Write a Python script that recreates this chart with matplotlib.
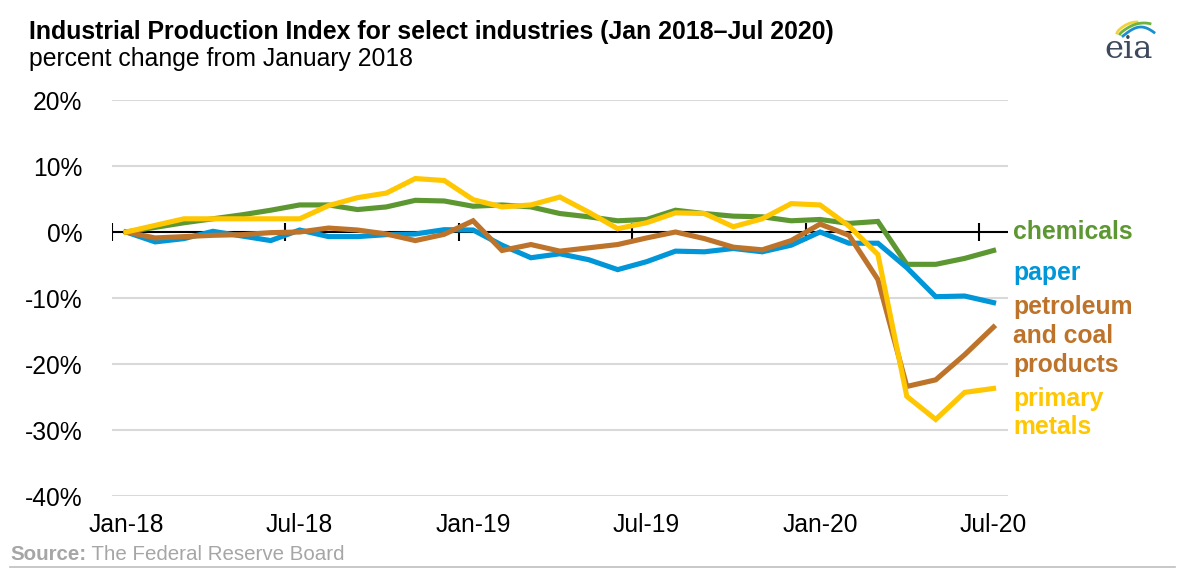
import numpy as np
import matplotlib
matplotlib.use('Agg')
import matplotlib.pyplot as plt
from matplotlib.lines import Line2D

plt.rcParams['font.family'] = ['Liberation Sans', 'DejaVu Sans']

# monthly values, Jan 2018 - Jul 2020 (percent change from Jan 2018)
months = ['Jan-18', 'Feb-18', 'Mar-18', 'Apr-18', 'May-18', 'Jun-18',
          'Jul-18', 'Aug-18', 'Sep-18', 'Oct-18', 'Nov-18', 'Dec-18',
          'Jan-19', 'Feb-19', 'Mar-19', 'Apr-19', 'May-19', 'Jun-19',
          'Jul-19', 'Aug-19', 'Sep-19', 'Oct-19', 'Nov-19', 'Dec-19',
          'Jan-20', 'Feb-20', 'Mar-20', 'Apr-20', 'May-20', 'Jun-20',
          'Jul-20']
chemicals = [0, 0.7, 1.4, 2.0, 2.6, 3.3, 4.1, 4.1, 3.4, 3.8, 4.8, 4.7,
             3.9, 4.1, 3.8, 2.8, 2.3, 1.7, 1.9, 3.3, 2.8, 2.4, 2.3, 1.7,
             1.9, 1.3, 1.6, -4.9, -4.9, -4.0, -2.8]
paper = [0, -1.5, -1.0, 0.1, -0.6, -1.3, 0.3, -0.7, -0.7, -0.4, -0.3, 0.35,
         0.3, -2.0, -3.9, -3.3, -4.2, -5.7, -4.5, -2.9, -3.0, -2.5, -3.0, -2.0,
         0.0, -1.7, -1.7, -5.4, -9.8, -9.7, -10.7]
petroleum = [0, -0.9, -0.7, -0.5, -0.4, -0.1, 0.0, 0.6, 0.3, -0.3, -1.3, -0.35,
             1.7, -2.8, -1.9, -2.9, -2.4, -1.9, -0.9, 0.0, -1.0, -2.3, -2.7, -1.3,
             1.2, -0.5, -7.2, -23.4, -22.4, -18.6, -14.4]
metals = [0, 1.0, 2.0, 2.0, 2.0, 2.0, 2.0, 4.0, 5.2, 5.9, 8.1, 7.8,
          4.9, 3.8, 4.1, 5.3, 3.0, 0.5, 1.4, 2.9, 2.8, 0.8, 2.0, 4.3,
          4.1, 0.9, -3.4, -24.9, -28.4, -24.3, -23.7]

series_names = ['chemicals', 'paper', 'petroleum\nand coal\nproducts', 'primary\nmetals']
colors = ['#5D9732', '#0096D7', '#BD732A', '#FFC702']
label_y = [232, 273, 336, 413]   # pixel rows of the end labels

yticks = [20, 10, 0, -10, -20, -30, -40]

fig = plt.figure(figsize=(11.85, 5.69), dpi=100)
W, H = 1185, 569
ax = fig.add_axes([111.7 / W, 1 - 496 / H, (1008 - 111.7) / W, (496 - 100) / H])

x = np.arange(len(months))
for vals, c in zip([chemicals, paper, petroleum, metals], colors):
    ax.plot(x, vals, color=c, lw=3.7, solid_joinstyle='miter', zorder=3)

ax.set_xlim(-0.5, len(months) - 0.5)
ax.set_ylim(-40, 20)
ax.set_yticks(yticks)
ax.set_yticklabels(['%d%%' % v for v in yticks])
ax.set_xticks(x[::6])
ax.set_xticklabels(months[::6])
ax.tick_params(length=0, labelsize=17.7, colors='black')
ax.tick_params(axis='y', pad=21)
ax.tick_params(axis='x', pad=12)
for s in ax.spines.values():
    s.set_visible(False)
for v in yticks:
    if v != 0:
        ax.axhline(v, color='#D9D9D9', lw=1.5, zorder=1)

# zero axis line with category-boundary tick marks
ax.axhline(0, color='black', lw=1.5, zorder=2)
bounds = np.arange(-0.5, len(months), 6)
ax.vlines(bounds, -1.3, 1.3, color='black', lw=1.5, zorder=2)

# end labels
for name, c, py in zip(series_names, colors, label_y):
    fig.text(1013 / W, 1 - py / H, name, color=c, fontsize=17.8,
             fontweight='bold', va='center', ha='left', linespacing=1.26)

# titles
fig.text(29 / W, 1 - 32 / H, 'Industrial Production Index for select industries (Jan 2018\u2013Jul 2020)',
         fontsize=17.9, fontweight='bold', va='center', ha='left')
fig.text(29 / W, 1 - 59 / H, 'percent change from January 2018',
         fontsize=17.8, va='center', ha='left')

# source
t1 = fig.text(10 / W, 1 - 554 / H, 'Source:', fontsize=14.8, fontweight='bold',
              color='#A6A6A6', va='center', ha='left')
ax.annotate(' The Federal Reserve Board', xy=(1, 0.5), xycoords=t1,
            fontsize=14.8, color='#A6A6A6', va='center', ha='left',
            annotation_clip=False)
fig.add_artist(Line2D([10 / W, 1175 / W], [1 - 567 / H, 1 - 567 / H],
                      color='#BFBFBF', lw=1.2))

# eia logo
lax = fig.add_axes([1100 / W, 1 - 65 / H, 60 / W, 50 / H])
lax.set_xlim(1100, 1160)
lax.set_ylim(65, 15)
lax.axis('off')
t = np.linspace(0, 1, 40)
lax.plot(1117 + 20 * t, 33 - 11 * np.sin(t * np.pi / 2) ** 0.7, color='#F2D23A', lw=2.0)
lax.plot(1120 + 30 * t, 34 - 11 * np.sin(t * np.pi / 1.6) ** 0.8, color='#6DB33F', lw=2.0)
lax.plot(1123 + 31 * t, 36 - 9 * np.sin(t * np.pi / 1.15), color='#1B8FD0', lw=2.0)
lax.text(1129, 49, 'eia', fontsize=23, family='DejaVu Serif', color='#3E4A5C',
         ha='center', va='center')

fig.savefig('out.png', dpi=100)
